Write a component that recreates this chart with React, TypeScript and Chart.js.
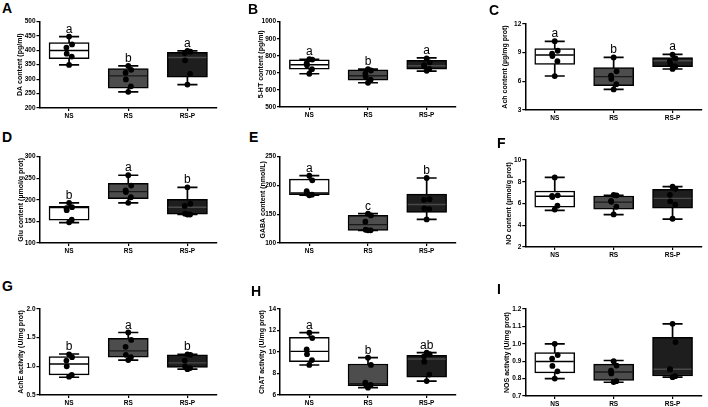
import React, { useEffect, useRef } from 'react';
import { Chart, registerables } from 'chart.js';
Chart.register(...registerables);

const FONT = '"Liberation Sans", Arial, sans-serif';
const GROUPS = ['NS', 'RS', 'RS-P'];
const FILLS = ['#ffffff', '#4d4d4d', '#1e1e1e'];
const MEDIAN_COLORS = ['#000000', '#1a1a1a', '#4a4a4a'];
const JITTER = [0, 0.05, -0.045, -0.04, 0.045, 0];

// ---- Panel A: DA content
const A_TITLE = 'DA content (pg/ml)';
const A_TICKS = [200, 500, 50, 0];
const A_MIN = [349, 256, 281];
const A_Q1 = [371, 269, 307];
const A_MED = [399, 311, 375];
const A_Q3 = [426, 336, 393];
const A_MAX = [447, 346, 398];
const A_PTS = [[447, 420, 409, 388, 378, 349], [346, 332, 322, 299, 275, 256], [398, 395, 390, 365, 318, 281]];
const A_LET = ['a', 'b', 'a'];

// ---- Panel B: 5-HT content
const B_TITLE = '5-HT content (pg/ml)';
const B_TICKS = [500, 1000, 100, 0];
const B_MIN = [695, 642, 710];
const B_Q1 = [722, 658, 722];
const B_MED = [748, 683, 742];
const B_Q3 = [776, 718, 774];
const B_MAX = [780, 722, 788];
const B_PTS = [[780, 778, 757, 745, 722, 695], [722, 714, 695, 679, 660, 642], [785, 762, 746, 738, 724, 712]];
const B_LET = ['a', 'b', 'a'];

// ---- Panel C: Ach content
const C_TITLE = 'Ach content (µg/mg prot)';
const C_TICKS = [3, 12, 3, 0];
const C_MIN = [6.56, 5.15, 7.29];
const C_Q1 = [7.78, 5.55, 7.54];
const C_MED = [8.76, 6.49, 8.16];
const C_Q3 = [9.42, 7.43, 8.48];
const C_MAX = [10.19, 8.51, 8.83];
const C_PTS = [[10.2, 9.2, 8.9, 8.65, 8.1, 6.55], [8.5, 7.05, 6.6, 6.25, 5.7, 5.15], [8.8, 8.4, 8.15, 7.85, 7.55, 7.3]];
const C_LET = ['a', 'b', 'a'];

// ---- Panel D: Glu content
const D_TITLE = 'Glu content (µmol/g prot)';
const D_TICKS = [100, 300, 50, 0];
const D_MIN = [147, 193, 166];
const D_Q1 = [153, 203, 167];
const D_MED = [182, 219, 183];
const D_Q3 = [185, 238, 201];
const D_MAX = [193, 257, 229];
const D_PTS = [[193, 183, 181, 176, 154, 148], [257, 233, 222, 218, 206, 193], [229, 191, 186, 168, 166, 166]];
const D_LET = ['b', 'a', 'b'];

// ---- Panel E: GABA content
const E_TITLE = 'GABA content (nmol/L)';
const E_TICKS = [100, 250, 50, 0];
const E_MIN = [183, 122, 141];
const E_Q1 = [184, 122, 153];
const E_MED = [187, 132, 167];
const E_Q3 = [211, 148, 185];
const E_MAX = [217, 151, 213];
const E_PTS = [[217, 209, 190, 186, 184, 183], [151, 148, 137, 123, 122, 122], [213, 176, 175, 160, 159, 141]];
const E_LET = ['a', 'c', 'b'];

// ---- Panel F: NO content
const F_TITLE = 'NO content (µmol/g prot)';
const F_TICKS = [2, 10, 2, 0];
const F_MIN = [5.37, 4.97, 4.57];
const F_Q1 = [5.67, 5.49, 5.58];
const F_MED = [6.66, 6.13, 6.47];
const F_Q3 = [7.15, 6.69, 7.3];
const F_MAX = [8.4, 6.75, 7.55];
const F_PTS = [[8.4, 6.75, 6.7, 6.6, 5.8, 5.45], [6.8, 6.75, 6.25, 6.15, 5.7, 5.0], [7.55, 7.35, 6.8, 6.2, 5.9, 4.6]];
const F_LET = ['', '', ''];

// ---- Panel G: AchE activity
const G_TITLE = 'AchE activity (U/mg prot)';
const G_TICKS = [0.5, 2.0, 0.5, 1];
const G_MIN = [0.81, 1.11, 0.95];
const G_Q1 = [0.85, 1.16, 0.98];
const G_MED = [1.04, 1.27, 1.06];
const G_Q3 = [1.17, 1.49, 1.2];
const G_MAX = [1.215, 1.59, 1.21];
const G_PTS = [[1.21, 1.16, 1.1, 1.0, 0.85, 0.82], [1.59, 1.46, 1.34, 1.2, 1.16, 1.11], [1.21, 1.2, 1.1, 1.0, 0.97, 0.95]];
const G_LET = ['b', 'a', 'b'];

// ---- Panel H: ChAT activity
const H_TITLE = 'ChAT activity (U/mg prot)';
const H_TICKS = [6, 14, 2, 0];
const H_MIN = [8.79, 6.68, 7.3];
const H_Q1 = [9.1, 6.87, 7.67];
const H_MED = [10.06, 7.05, 9.35];
const H_Q3 = [11.36, 8.88, 9.69];
const H_MAX = [11.8, 9.47, 9.94];
const H_PTS = [[11.8, 11.3, 10.25, 9.8, 9.25, 8.8], [9.47, 8.8, 7.15, 7.0, 6.93, 6.68], [9.95, 9.8, 9.6, 9.1, 7.9, 7.3]];
const H_LET = ['a', 'b', 'ab'];

// ---- Panel I: NOS activity
const I_TITLE = 'NOS activity (U/mg prot)';
const I_TICKS = [0.7, 1.2, 0.1, 1];
const I_MIN = [0.8, 0.779, 0.808];
const I_Q1 = [0.833, 0.79, 0.815];
const I_MED = [0.898, 0.838, 0.854];
const I_Q3 = [0.95, 0.883, 1.037];
const I_MAX = [1.0, 0.904, 1.115];
const I_PTS = [[1.0, 0.935, 0.915, 0.873, 0.842, 0.8], [0.9, 0.875, 0.845, 0.83, 0.785, 0.78], [1.115, 1.01, 0.855, 0.853, 0.814, 0.808]];
const I_LET = ['', '', ''];

type PanelData = {
  tag: string; title: string; ticks: number[];
  min: number[]; q1: number[]; med: number[]; q3: number[]; max: number[];
  pts: number[][]; letters: string[];
};

const PANELS: PanelData[] = [
  { tag: 'A', title: A_TITLE, ticks: A_TICKS, min: A_MIN, q1: A_Q1, med: A_MED, q3: A_Q3, max: A_MAX, pts: A_PTS, letters: A_LET },
  { tag: 'B', title: B_TITLE, ticks: B_TICKS, min: B_MIN, q1: B_Q1, med: B_MED, q3: B_Q3, max: B_MAX, pts: B_PTS, letters: B_LET },
  { tag: 'C', title: C_TITLE, ticks: C_TICKS, min: C_MIN, q1: C_Q1, med: C_MED, q3: C_Q3, max: C_MAX, pts: C_PTS, letters: C_LET },
  { tag: 'D', title: D_TITLE, ticks: D_TICKS, min: D_MIN, q1: D_Q1, med: D_MED, q3: D_Q3, max: D_MAX, pts: D_PTS, letters: D_LET },
  { tag: 'E', title: E_TITLE, ticks: E_TICKS, min: E_MIN, q1: E_Q1, med: E_MED, q3: E_Q3, max: E_MAX, pts: E_PTS, letters: E_LET },
  { tag: 'F', title: F_TITLE, ticks: F_TICKS, min: F_MIN, q1: F_Q1, med: F_MED, q3: F_Q3, max: F_MAX, pts: F_PTS, letters: F_LET },
  { tag: 'G', title: G_TITLE, ticks: G_TICKS, min: G_MIN, q1: G_Q1, med: G_MED, q3: G_Q3, max: G_MAX, pts: G_PTS, letters: G_LET },
  { tag: 'H', title: H_TITLE, ticks: H_TICKS, min: H_MIN, q1: H_Q1, med: H_MED, q3: H_Q3, max: H_MAX, pts: H_PTS, letters: H_LET },
  { tag: 'I', title: I_TITLE, ticks: I_TICKS, min: I_MIN, q1: I_Q1, med: I_MED, q3: I_Q3, max: I_MAX, pts: I_PTS, letters: I_LET },
];

// layout: plot area (left, top, right, bottom), y-title centre x, panel tag position
const LAYOUT = [
  { l: 39.5, t: 21.3, r: 216.5, b: 108.3, tx: 20, lx: 2, ly: 3 },
  { l: 280, t: 21.7, r: 456, b: 107.3, tx: 261, lx: 248, ly: 3.5 },
  { l: 525.3, t: 24, r: 702, b: 110, tx: 505, lx: 489, ly: 5 },
  { l: 39.5, t: 156.7, r: 216.5, b: 242.7, tx: 20.7, lx: 2, ly: 132 },
  { l: 280, t: 156.7, r: 456, b: 242.7, tx: 262.7, lx: 249, ly: 132 },
  { l: 525.3, t: 160, r: 702, b: 247, tx: 508.7, lx: 497, ly: 138 },
  { l: 39.5, t: 309, r: 216.5, b: 395, tx: 20.7, lx: 2, ly: 281 },
  { l: 280, t: 309, r: 456, b: 395, tx: 262, lx: 251, ly: 286 },
  { l: 525.3, t: 309, r: 702, b: 395.7, tx: 507, lx: 497, ly: 284 },
];

const TITLE_SIZE = 7;
const PAD_TOP = 18;
const X_H = 16;
const PAD_R = 4;
const BOX_FRAC = 0.68;
const CAP_FRAC = 0.34;

function makeBoxPlugin(p: PanelData) {
  return {
    id: 'boxParts' + p.tag,
    beforeDatasetsDraw(chart: any) {
      const ctx = chart.ctx;
      const x = chart.scales.x;
      const y = chart.scales.y;
      const unit = x.getPixelForValue(1) - x.getPixelForValue(0);
      const capHalf = (unit * CAP_FRAC) / 2;
      ctx.save();
      ctx.strokeStyle = '#000';
      ctx.lineWidth = 1.7;
      GROUPS.forEach((_, i) => {
        const cx = x.getPixelForValue(i);
        const yMin = y.getPixelForValue(p.min[i]);
        const yMax = y.getPixelForValue(p.max[i]);
        ctx.beginPath();
        ctx.moveTo(cx, yMin);
        ctx.lineTo(cx, yMax);
        ctx.moveTo(cx - capHalf, yMin);
        ctx.lineTo(cx + capHalf, yMin);
        ctx.moveTo(cx - capHalf, yMax);
        ctx.lineTo(cx + capHalf, yMax);
        ctx.stroke();
      });
      ctx.restore();
    },
    afterDatasetDraw(chart: any, args: any) {
      if (args.index !== 0) return;
      const ctx = chart.ctx;
      const y = chart.scales.y;
      const meta = chart.getDatasetMeta(0);
      ctx.save();
      ctx.lineWidth = 1.4;
      meta.data.forEach((el: any, i: number) => {
        const ym = y.getPixelForValue(p.med[i]);
        ctx.strokeStyle = MEDIAN_COLORS[i];
        ctx.beginPath();
        ctx.moveTo(el.x - el.width / 2 + 1, ym);
        ctx.lineTo(el.x + el.width / 2 - 1, ym);
        ctx.stroke();
      });
      ctx.restore();
    },
    afterDatasetsDraw(chart: any) {
      const ctx = chart.ctx;
      const x = chart.scales.x;
      const y = chart.scales.y;
      ctx.save();
      ctx.fillStyle = '#000';
      ctx.font = `12px ${FONT}`;
      ctx.textAlign = 'center';
      ctx.textBaseline = 'alphabetic';
      GROUPS.forEach((_, i) => {
        const t = p.letters[i];
        if (!t) return;
        ctx.fillText(t, x.getPixelForValue(i), y.getPixelForValue(p.max[i]) - 4);
      });
      ctx.restore();
    },
  };
}

function BoxPanel({ p, L }: { p: PanelData; L: any }) {
  const ref = useRef<HTMLCanvasElement>(null);
  const lh = TITLE_SIZE * 1.2;
  const cLeft = Math.round(L.tx - lh / 2);
  const cTop = Math.round(L.t - PAD_TOP);
  const yW = L.l - cLeft;
  const padTop = L.t - cTop;
  const w = Math.round(L.r + PAD_R - cLeft);
  const h = Math.round(L.b - cTop + X_H);
  const boxPx = ((L.r - L.l) / GROUPS.length) * BOX_FRAC;
  useEffect(() => {
    const [yMin, yMax, yStep, dec] = p.ticks;
    const boxData = p.q1.map((q, i) => ({ x: i, y: [q, p.q3[i]] }));
    const scatterData = p.pts.flatMap((arr, gi) => arr.map((v, j) => ({ x: gi + JITTER[j % JITTER.length], y: v })));
    const tickFont = { family: FONT, size: 6.5, weight: 'bold' as const };
    const chart = new Chart(ref.current as HTMLCanvasElement, {
      type: 'bar',
      data: {
        datasets: [
          {
            type: 'bar',
            data: boxData as any,
            backgroundColor: FILLS,
            borderColor: '#000',
            borderWidth: 1.5,
            borderSkipped: false,
            barThickness: boxPx,
            grouped: false,
            order: 2,
          } as any,
          {
            type: 'scatter',
            data: scatterData,
            pointRadius: 2.9,
            pointBackgroundColor: '#000',
            pointBorderColor: '#000',
            pointBorderWidth: 0,
            order: 1,
          } as any,
        ],
      },
      options: {
        responsive: false,
        animation: false,
        devicePixelRatio: 1,
        layout: { padding: { top: padTop, right: PAD_R, left: 0, bottom: 0 } },
        plugins: { legend: { display: false }, tooltip: { enabled: false } },
        scales: {
          x: {
            type: 'linear',
            min: -0.5,
            max: 2.5,
            offset: false,
            grid: { display: true, drawOnChartArea: false, offset: false, tickLength: 3, color: '#000', lineWidth: 1.2 },
            border: { display: true, color: '#000', width: 1.5 },
            ticks: {
              font: tickFont,
              color: '#000',
              padding: 1,
              maxRotation: 0,
              autoSkip: false,
              callback: (v: any) => GROUPS[Math.round(Number(v))] ?? '',
            },
            afterBuildTicks: (s: any) => { s.ticks = GROUPS.map((_, i) => ({ value: i })); },
            afterFit: (s: any) => { s.height = X_H; },
          },
          y: {
            type: 'linear',
            min: yMin,
            max: yMax,
            ticks: {
              stepSize: yStep,
              font: tickFont,
              color: '#000',
              padding: 1,
              callback: (v: any) => Number(v).toFixed(dec),
            },
            grid: { drawOnChartArea: false, tickLength: 3, color: '#000', lineWidth: 1.2 },
            border: { display: true, color: '#000', width: 1.5 },
            title: {
              display: true,
              text: p.title,
              font: { family: FONT, size: TITLE_SIZE, weight: 'bold' },
              color: '#000',
              padding: 0,
            },
            afterFit: (s: any) => { s.width = yW; },
          },
        },
      } as any,
      plugins: [makeBoxPlugin(p)],
    });
    return () => chart.destroy();
  }, []);
  return (
    <canvas
      ref={ref}
      width={w}
      height={h}
      style={{ position: 'absolute', left: cLeft, top: cTop, width: w, height: h }}
    />
  );
}

export default function App() {
  return (
    <div style={{ position: 'absolute', left: 0, top: 0, width: 708, height: 407, background: '#fff', overflow: 'hidden' }}>
      {PANELS.map((p, i) => (
        <React.Fragment key={p.tag}>
          <BoxPanel p={p} L={LAYOUT[i]} />
          <div
            style={{
              position: 'absolute',
              left: LAYOUT[i].lx,
              top: LAYOUT[i].ly - 2,
              font: `bold 14px ${FONT}`,
              lineHeight: '14px',
              color: '#000',
            }}
          >
            {p.tag}
          </div>
        </React.Fragment>
      ))}
    </div>
  );
}
